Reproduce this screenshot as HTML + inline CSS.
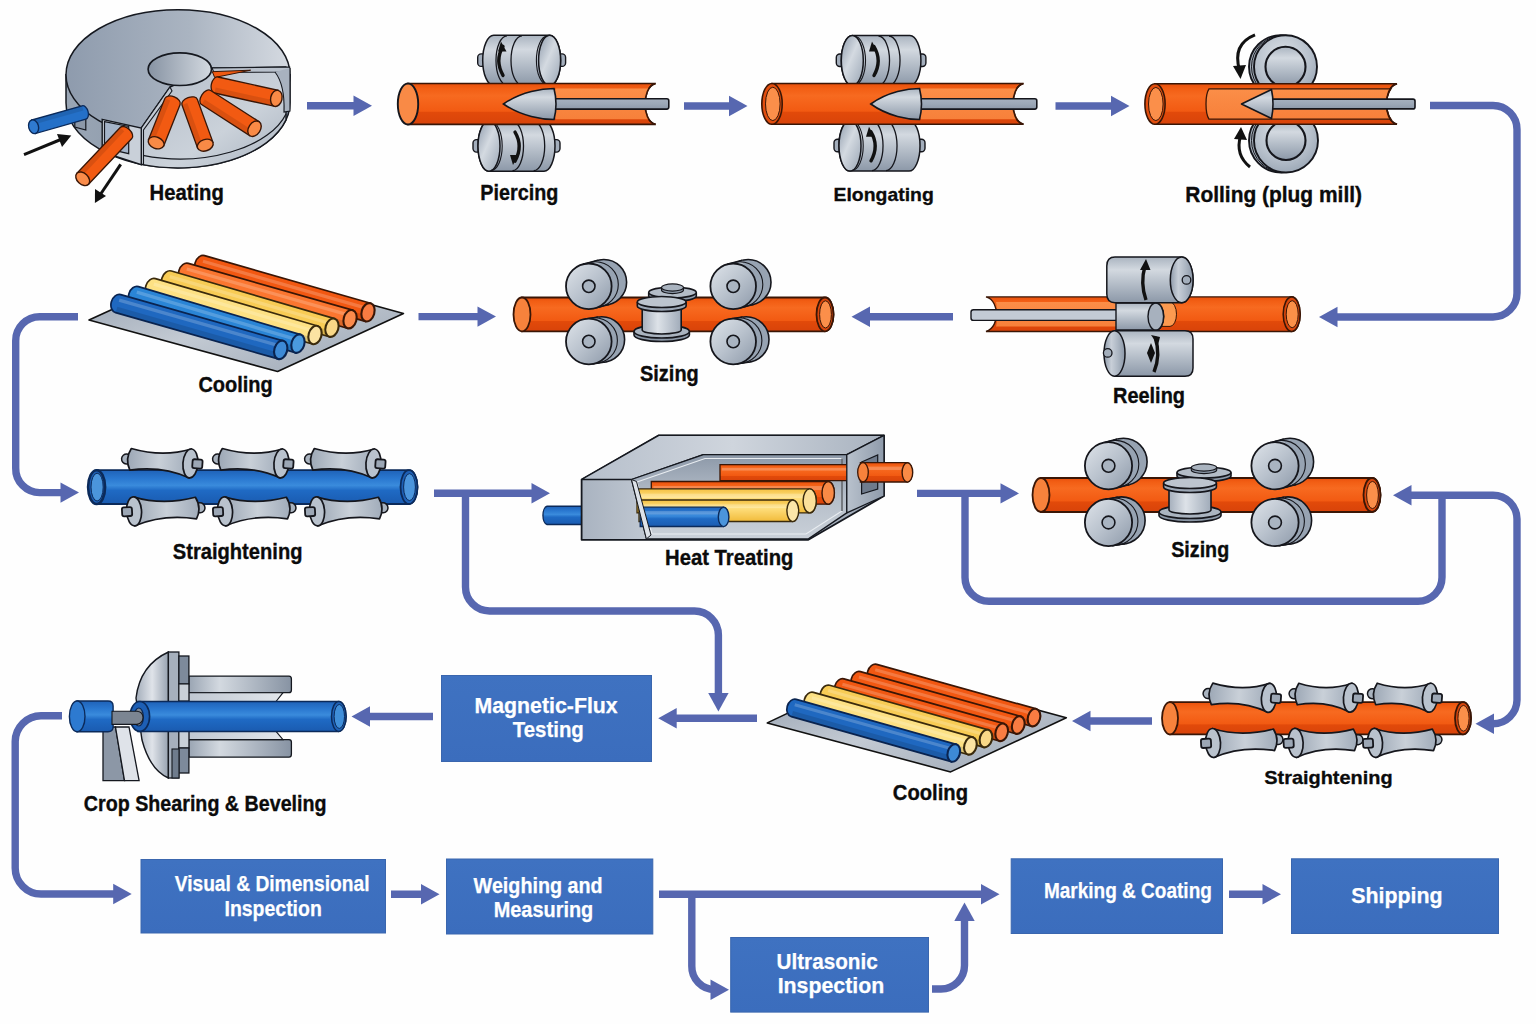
<!DOCTYPE html>
<html><head><meta charset="utf-8"><title>Seamless Pipe Process</title>
<style>
html,body{margin:0;padding:0;background:#fefefe;}
body{width:1536px;height:1024px;overflow:hidden;}
svg{display:block;}
text{font-family:"Liberation Sans",sans-serif;font-weight:bold;}
.lt{fill:#0b0b0b;stroke:#0b0b0b;stroke-width:0.35px;}
.lt2{fill:#0b0b0b;stroke:#0b0b0b;stroke-width:0.3px;}
.bt{fill:#fff;stroke:#fff;stroke-width:0.25px;}
</style></head><body>
<svg width="1536" height="1024" viewBox="0 0 1536 1024">
<defs>

<linearGradient id="spoolb" x1="0" y1="0" x2="1" y2="0"><stop offset="0" stop-color="#a5afbc"/><stop offset="0.4" stop-color="#dde2e8"/><stop offset="1" stop-color="#a0abb9"/></linearGradient>
<linearGradient id="rollend" x1="0" y1="0" x2="1" y2="1"><stop offset="0" stop-color="#8d9aab"/><stop offset="0.45" stop-color="#d4dae1"/><stop offset="1" stop-color="#9aa6b5"/></linearGradient>
<radialGradient id="discf2" cx="0.45" cy="0.35" r="0.7"><stop offset="0" stop-color="#dde2e8"/><stop offset="0.6" stop-color="#b9c2cd"/><stop offset="1" stop-color="#98a4b3"/></radialGradient>
<linearGradient id="ftop" x1="0" y1="0" x2="1" y2="0"><stop offset="0" stop-color="#8e9bad"/><stop offset="0.55" stop-color="#aab4c1"/><stop offset="1" stop-color="#d5dae1"/></linearGradient>
<linearGradient id="fside" x1="0" y1="0" x2="1" y2="0"><stop offset="0" stop-color="#9aa6b5"/><stop offset="0.5" stop-color="#8a97a8"/><stop offset="1" stop-color="#7e8b9d"/></linearGradient>
<linearGradient id="ffloor" x1="0" y1="0" x2="1" y2="1"><stop offset="0" stop-color="#b3bcc8"/><stop offset="0.6" stop-color="#cbd2da"/><stop offset="1" stop-color="#a9b3c0"/></linearGradient>
<linearGradient id="fhole" x1="0" y1="0" x2="1" y2="0"><stop offset="0" stop-color="#8793a3"/><stop offset="1" stop-color="#d3d9e0"/></linearGradient>
<linearGradient id="htg" x1="0" y1="0" x2="1" y2="0"><stop offset="0" stop-color="#a9b3c0"/><stop offset="0.3" stop-color="#c9d0d9"/><stop offset="1" stop-color="#9aa5b4"/></linearGradient>
<linearGradient id="httop" x1="0" y1="0" x2="1" y2="0"><stop offset="0" stop-color="#b6bfcb"/><stop offset="0.5" stop-color="#cfd5dd"/><stop offset="1" stop-color="#a8b2bf"/></linearGradient>
<linearGradient id="htin" x1="0" y1="0" x2="0" y2="1"><stop offset="0" stop-color="#8c98a8"/><stop offset="0.5" stop-color="#b5bec9"/><stop offset="1" stop-color="#c9d0d8"/></linearGradient>
<linearGradient id="htside" x1="0" y1="0" x2="1" y2="0"><stop offset="0" stop-color="#b9c2cd"/><stop offset="1" stop-color="#8f9bab"/></linearGradient>
<linearGradient id="domeg" x1="0" y1="0" x2="1" y2="0"><stop offset="0" stop-color="#a3adba"/><stop offset="0.5" stop-color="#dfe3e9"/><stop offset="1" stop-color="#98a3b1"/></linearGradient>
<linearGradient id="armg" x1="0" y1="0" x2="1" y2="0"><stop offset="0" stop-color="#9aa5b3"/><stop offset="0.3" stop-color="#d3d9e0"/><stop offset="1" stop-color="#8793a3"/></linearGradient>
<linearGradient id="armg2" x1="0" y1="0" x2="1" y2="0"><stop offset="0" stop-color="#c0c8d2"/><stop offset="1" stop-color="#e2e6eb"/></linearGradient>
<linearGradient id="plateg" x1="0" y1="0" x2="1" y2="1"><stop offset="0" stop-color="#8e9aaa"/><stop offset="0.5" stop-color="#c3cad3"/><stop offset="1" stop-color="#9aa5b3"/></linearGradient>
<linearGradient id="rollg" x1="0" y1="0" x2="1" y2="0"><stop offset="0" stop-color="#9da8b6"/><stop offset="0.5" stop-color="#c9d0d8"/><stop offset="1" stop-color="#a1acba"/></linearGradient>
<linearGradient id="discf" x1="0" y1="0" x2="1" y2="1"><stop offset="0" stop-color="#dfe4ea"/><stop offset="0.5" stop-color="#b9c2cd"/><stop offset="1" stop-color="#8d99a9"/></linearGradient>
<linearGradient id="og" x1="0" y1="0" x2="0" y2="1">
 <stop offset="0" stop-color="#e9500c"/><stop offset="0.12" stop-color="#f25e14"/>
 <stop offset="0.3" stop-color="#f76a20"/><stop offset="0.68" stop-color="#f25a12"/>
 <stop offset="0.7" stop-color="#e24a0a"/><stop offset="1" stop-color="#d8430a"/></linearGradient>
<linearGradient id="oin" x1="0" y1="0" x2="0" y2="1">
 <stop offset="0" stop-color="#fb8e48"/><stop offset="1" stop-color="#f7803a"/></linearGradient>
<linearGradient id="sg" x1="0" y1="0" x2="0" y2="1">
 <stop offset="0" stop-color="#aab4c0"/><stop offset="0.28" stop-color="#d3d9e0"/>
 <stop offset="0.6" stop-color="#b3bcc7"/><stop offset="1" stop-color="#8c98a8"/></linearGradient>
<linearGradient id="sgh" x1="0" y1="0" x2="1" y2="0">
 <stop offset="0" stop-color="#8e9aaa"/><stop offset="0.35" stop-color="#c8cfd8"/>
 <stop offset="0.65" stop-color="#aeb8c4"/><stop offset="1" stop-color="#8b97a7"/></linearGradient>
<linearGradient id="rodg" x1="0" y1="0" x2="0" y2="1">
 <stop offset="0" stop-color="#a6b1bf"/><stop offset="0.5" stop-color="#9ca8b7"/><stop offset="1" stop-color="#8d99a9"/></linearGradient>
<linearGradient id="bg" x1="0" y1="0" x2="0" y2="1">
 <stop offset="0" stop-color="#1f62b8"/><stop offset="0.25" stop-color="#2a78d0"/>
 <stop offset="0.45" stop-color="#3a8bdc"/><stop offset="0.6" stop-color="#1f6ac4"/><stop offset="1" stop-color="#1a5bb0"/></linearGradient>
<linearGradient id="yg" x1="0" y1="0" x2="0" y2="1">
 <stop offset="0" stop-color="#f4c042"/><stop offset="0.35" stop-color="#ffe080"/><stop offset="1" stop-color="#f1bb3a"/></linearGradient>

<linearGradient id="boxg" x1="0" y1="0" x2="0" y2="1"><stop offset="0" stop-color="#3f72c1"/><stop offset="1" stop-color="#3b6dbd"/></linearGradient>
</defs>
<rect width="1536" height="1024" fill="#fefefe"/>
<polygon fill="#5767b0" points="307.0,102.1 353.5,102.1 353.5,95.6 372.0,105.8 353.5,116.0 353.5,109.5 307.0,109.5"/>
<polygon fill="#5767b0" points="684.0,102.3 729.0,102.3 729.0,95.8 747.5,106.0 729.0,116.2 729.0,109.7 684.0,109.7"/>
<polygon fill="#5767b0" points="1055.5,102.3 1111.0,102.3 1111.0,95.8 1129.5,106.0 1111.0,116.2 1111.0,109.7 1055.5,109.7"/>
<path d="M1430,105.5 H1493 A24,24 0 0 1 1517,130 V293 A24,24 0 0 1 1493,317 H1336" fill="none" stroke="#5767b0" stroke-width="7.4" stroke-linejoin="round"/>
<polygon fill="#5767b0" points="1319.0,317.0 1337.5,306.8 1337.5,327.2"/>
<polygon fill="#5767b0" points="418.5,312.9 477.5,312.9 477.5,306.4 496.0,316.6 477.5,326.8 477.5,320.3 418.5,320.3"/>
<polygon fill="#5767b0" points="953.0,313.0 870.0,313.0 870.0,306.5 851.5,316.7 870.0,326.9 870.0,320.4 953.0,320.4"/>
<path d="M78,316.7 H40 A24,24 0 0 0 15.7,341 V468 A24,24 0 0 0 40,492.6 H62" fill="none" stroke="#5767b0" stroke-width="7.4" stroke-linejoin="round"/>
<polygon fill="#5767b0" points="79.0,492.6 60.5,482.4 60.5,502.8"/>
<polygon fill="#5767b0" points="434.0,489.5 531.5,489.5 531.5,483.0 550.0,493.2 531.5,503.4 531.5,496.9 434.0,496.9"/>
<path d="M465.5,493 V587 A24,24 0 0 0 489.5,611 H694.5 A24,24 0 0 1 718.4,635 V695" fill="none" stroke="#5767b0" stroke-width="7.4" stroke-linejoin="round"/>
<polygon fill="#5767b0" points="718.4,711.5 708.2,693.0 728.6,693.0"/>
<polygon fill="#5767b0" points="917.0,489.7 1000.5,489.7 1000.5,483.2 1019.0,493.4 1000.5,503.6 1000.5,497.1 917.0,497.1"/>
<path d="M965,493 V577 A24,24 0 0 0 989,601.3 H1418 A24,24 0 0 0 1442,577 V495" fill="none" stroke="#5767b0" stroke-width="7.4" stroke-linejoin="round"/>
<path d="M1411,495.2 H1493 A24,24 0 0 1 1517,519 V700 A24,24 0 0 1 1493,723.7 H1491" fill="none" stroke="#5767b0" stroke-width="7.4" stroke-linejoin="round"/>
<polygon fill="#5767b0" points="1393.0,495.2 1411.5,485.0 1411.5,505.4"/>
<polygon fill="#5767b0" points="1475.5,723.7 1494.0,713.5 1494.0,733.9"/>
<polygon fill="#5767b0" points="433.0,712.8 370.0,712.8 370.0,706.3 351.5,716.5 370.0,726.7 370.0,720.2 433.0,720.2"/>
<polygon fill="#5767b0" points="757.0,714.5 676.7,714.5 676.7,708.0 658.2,718.2 676.7,728.4 676.7,721.9 757.0,721.9"/>
<polygon fill="#5767b0" points="1152.0,717.3 1090.5,717.3 1090.5,710.8 1072.0,721.0 1090.5,731.2 1090.5,724.7 1152.0,724.7"/>
<path d="M62,715.7 H41 A26,26 0 0 0 15.2,741.5 V868 A26,26 0 0 0 41,894 H116" fill="none" stroke="#5767b0" stroke-width="7.4" stroke-linejoin="round"/>
<polygon fill="#5767b0" points="131.7,894.0 113.2,883.8 113.2,904.2"/>
<polygon fill="#5767b0" points="391.0,890.5 421.0,890.5 421.0,884.0 439.5,894.2 421.0,904.4 421.0,897.9 391.0,897.9"/>
<path d="M659,894.3 H982" fill="none" stroke="#5767b0" stroke-width="7.4" stroke-linejoin="round"/>
<polygon fill="#5767b0" points="999.5,894.3 981.0,884.1 981.0,904.5"/>
<path d="M691.8,894 V966 A23,23 0 0 0 714.8,989.5 H713" fill="none" stroke="#5767b0" stroke-width="7.4" stroke-linejoin="round"/>
<polygon fill="#5767b0" points="729.0,989.8 710.5,979.6 710.5,1000.0"/>
<path d="M932,989 H941 A23.5,23.5 0 0 0 964.5,965.5 V918" fill="none" stroke="#5767b0" stroke-width="7.4" stroke-linejoin="round"/>
<polygon fill="#5767b0" points="964.5,902.5 954.3,921.0 974.7,921.0"/>
<polygon fill="#5767b0" points="1229.0,890.5 1262.5,890.5 1262.5,884.0 1281.0,894.2 1262.5,904.4 1262.5,897.9 1229.0,897.9"/>
<rect x="441.5" y="675.5" width="210.0" height="86.0" fill="url(#boxg)" stroke="#3a66ae" stroke-width="1"/>
<text x="474.5" y="712.8" textLength="143.2" lengthAdjust="spacingAndGlyphs" font-size="22.0" fill="#fff" class="bt">Magnetic-Flux</text>
<text x="512.8" y="737.0" textLength="71.0" lengthAdjust="spacingAndGlyphs" font-size="22.0" fill="#fff" class="bt">Testing</text>
<rect x="141.0" y="859.5" width="244.5" height="73.5" fill="url(#boxg)" stroke="#3a66ae" stroke-width="1"/>
<text x="174.7" y="890.8" textLength="194.8" lengthAdjust="spacingAndGlyphs" font-size="22.0" fill="#fff" class="bt">Visual &amp; Dimensional</text>
<text x="224.5" y="915.5" textLength="97.3" lengthAdjust="spacingAndGlyphs" font-size="22.0" fill="#fff" class="bt">Inspection</text>
<rect x="446.5" y="859.0" width="206.3" height="75.0" fill="url(#boxg)" stroke="#3a66ae" stroke-width="1"/>
<text x="473.6" y="893.4" textLength="129.1" lengthAdjust="spacingAndGlyphs" font-size="22.0" fill="#fff" class="bt">Weighing and</text>
<text x="493.7" y="917.3" textLength="99.6" lengthAdjust="spacingAndGlyphs" font-size="22.0" fill="#fff" class="bt">Measuring</text>
<rect x="730.7" y="937.5" width="197.8" height="74.6" fill="url(#boxg)" stroke="#3a66ae" stroke-width="1"/>
<text x="776.5" y="968.8" textLength="101.2" lengthAdjust="spacingAndGlyphs" font-size="22.0" fill="#fff" class="bt">Ultrasonic</text>
<text x="777.7" y="993.3" textLength="106.5" lengthAdjust="spacingAndGlyphs" font-size="22.0" fill="#fff" class="bt">Inspection</text>
<rect x="1011.2" y="858.8" width="211.3" height="74.7" fill="url(#boxg)" stroke="#3a66ae" stroke-width="1"/>
<text x="1043.9" y="897.7" textLength="168.0" lengthAdjust="spacingAndGlyphs" font-size="22.0" fill="#fff" class="bt">Marking &amp; Coating</text>
<rect x="1291.5" y="858.8" width="207.0" height="74.7" fill="url(#boxg)" stroke="#3a66ae" stroke-width="1"/>
<text x="1351.2" y="903.0" textLength="91.4" lengthAdjust="spacingAndGlyphs" font-size="22.0" fill="#fff" class="bt">Shipping</text>
<text x="149.5" y="200.0" textLength="74.3" lengthAdjust="spacingAndGlyphs" font-size="21.5" class="lt">Heating</text>
<text x="480.3" y="199.5" textLength="78.0" lengthAdjust="spacingAndGlyphs" font-size="21.5" class="lt">Piercing</text>
<text x="833.5" y="201.0" textLength="100.3" lengthAdjust="spacingAndGlyphs" font-size="18.6" class="lt2">Elongating</text>
<text x="1185.3" y="202.0" textLength="176.7" lengthAdjust="spacingAndGlyphs" font-size="21.5" class="lt">Rolling (plug mill)</text>
<text x="198.4" y="391.6" textLength="74.4" lengthAdjust="spacingAndGlyphs" font-size="21.5" class="lt">Cooling</text>
<text x="640.0" y="380.6" textLength="58.8" lengthAdjust="spacingAndGlyphs" font-size="21.5" class="lt">Sizing</text>
<text x="1113.0" y="403.1" textLength="72.0" lengthAdjust="spacingAndGlyphs" font-size="21.5" class="lt">Reeling</text>
<text x="172.8" y="559.0" textLength="129.7" lengthAdjust="spacingAndGlyphs" font-size="21.5" class="lt">Straightening</text>
<text x="665.0" y="565.3" textLength="128.4" lengthAdjust="spacingAndGlyphs" font-size="21.5" class="lt">Heat Treating</text>
<text x="1171.2" y="556.6" textLength="58.0" lengthAdjust="spacingAndGlyphs" font-size="21.5" class="lt">Sizing</text>
<text x="83.8" y="811.3" textLength="242.8" lengthAdjust="spacingAndGlyphs" font-size="21.5" class="lt">Crop Shearing &amp; Beveling</text>
<text x="892.8" y="800.0" textLength="75.2" lengthAdjust="spacingAndGlyphs" font-size="21.5" class="lt">Cooling</text>
<text x="1264.2" y="783.6" textLength="128.5" lengthAdjust="spacingAndGlyphs" font-size="18.6" class="lt2">Straightening</text>
<rect x="477.7" y="53.9" width="10" height="12.5" rx="3.5" fill="#a3aebc" stroke="#15161c" stroke-width="1.4"/>
<rect x="555.6" y="53.9" width="10" height="12.5" rx="3.5" fill="#a3aebc" stroke="#15161c" stroke-width="1.4"/>
<path d="M493.7,35.3 H549.6 A11,25.1 0 0 1 549.6,85.5 H493.7 A11,25.1 0 0 1 493.7,35.3 Z" fill="url(#sg)" stroke="#15161c" stroke-width="1.5"/>
<ellipse cx="549.6" cy="60.4" rx="11" ry="25.1" fill="url(#rollend)" stroke="#15161c" stroke-width="1.5"/>
<path d="M547.4,36.1 A11,24.3 0 0 0 547.4,84.7" fill="none" stroke="#15161c" stroke-width="1.1"/>
<path d="M507,35.8 A11,24.6 0 0 0 507,85" fill="none" stroke="#15161c" stroke-width="1.3"/>
<path d="M522,35.8 A11,24.6 0 0 0 522,85" fill="none" stroke="#15161c" stroke-width="1.3"/>
<path d="M503,46.4 Q494.6,60.4 503,75.4" fill="none" stroke="#111" stroke-width="3.4" stroke-linecap="round"/>
<polygon points="498,51.4 506.5,51.4 501,41.4" fill="#111"/>
<rect x="473" y="139.6" width="10" height="12.5" rx="3.5" fill="#a3aebc" stroke="#15161c" stroke-width="1.4"/>
<rect x="550" y="139.6" width="10" height="12.5" rx="3.5" fill="#a3aebc" stroke="#15161c" stroke-width="1.4"/>
<path d="M489,121 H544 A11,25.1 0 0 1 544,171.2 H489 A11,25.1 0 0 1 489,121 Z" fill="url(#sg)" stroke="#15161c" stroke-width="1.5"/>
<ellipse cx="489" cy="146.1" rx="11" ry="25.1" fill="url(#rollend)" stroke="#15161c" stroke-width="1.5"/>
<path d="M491.2,121.8 A11,24.3 0 0 1 491.2,170.4" fill="none" stroke="#15161c" stroke-width="1.1"/>
<path d="M512.5,121.5 A11,24.6 0 0 1 512.5,170.7" fill="none" stroke="#15161c" stroke-width="1.3"/>
<path d="M533.7,121.5 A11,24.6 0 0 1 533.7,170.7" fill="none" stroke="#15161c" stroke-width="1.3"/>
<path d="M515,132.1 Q523.4,146.1 515,161.1" fill="none" stroke="#111" stroke-width="3.4" stroke-linecap="round"/>
<polygon points="510,155.1 518.5,155.1 513,165.1" fill="#111"/>
<path d="M408,83.5 H655.6 C647.6,85.5 645.1,96 645.1,104 C645.1,112 647.6,122.4 655.6,124.4 H408 Z" fill="url(#og)" stroke="#3a1606" stroke-width="1.6"/>
<path d="M556,88.6 H649.6 C646.6,92.6 645.1,98 645.1,104 C645.1,110 646.6,115.3 649.6,119.3 H556 C552,113.3 552,94.6 556,88.6 Z" fill="url(#oin)"/>
<path d="M655.6,83.5 C647.6,85.5 645.1,96 645.1,104 C645.1,112 647.6,122.4 655.6,124.4" fill="none" stroke="#3a1606" stroke-width="1.6"/>
<ellipse cx="408" cy="104" rx="10.2" ry="20.5" fill="#f98a46" stroke="#15161c" stroke-width="1.9000000000000001"/>
<rect x="551" y="98.8" width="117.8" height="10.3" rx="2" fill="url(#rodg)" stroke="#15161c" stroke-width="1.6"/>
<path d="M503.5,104 C521.5,91.5 543,88.5 554,88.5 Q558,104 554,119.5 C543,119.5 521.5,116.5 503.5,104 Z" fill="url(#sg)" stroke="#15161c" stroke-width="1.6"/>
<rect x="836.3" y="54" width="10" height="12.5" rx="3.5" fill="#a3aebc" stroke="#15161c" stroke-width="1.4"/>
<rect x="915.9" y="54" width="10" height="12.5" rx="3.5" fill="#a3aebc" stroke="#15161c" stroke-width="1.4"/>
<path d="M852.3,35.5 H909.9 A11,25 0 0 1 909.9,85.6 H852.3 A11,25 0 0 1 852.3,35.5 Z" fill="url(#sg)" stroke="#15161c" stroke-width="1.5"/>
<ellipse cx="852.3" cy="60.5" rx="11" ry="25" fill="url(#rollend)" stroke="#15161c" stroke-width="1.5"/>
<path d="M854.5,36.3 A11,24.2 0 0 1 854.5,84.8" fill="none" stroke="#15161c" stroke-width="1.1"/>
<path d="M878.5,36 A11,24.5 0 0 1 878.5,85.1" fill="none" stroke="#15161c" stroke-width="1.3"/>
<path d="M889,36 A11,24.5 0 0 1 889,85.1" fill="none" stroke="#15161c" stroke-width="1.3"/>
<path d="M874,46.5 Q882.4,60.5 874,75.5" fill="none" stroke="#111" stroke-width="3.4" stroke-linecap="round"/>
<polygon points="869,51.5 877.5,51.5 872,41.5" fill="#111"/>
<rect x="834" y="139.2" width="10" height="12.5" rx="3.5" fill="#a3aebc" stroke="#15161c" stroke-width="1.4"/>
<rect x="915" y="139.2" width="10" height="12.5" rx="3.5" fill="#a3aebc" stroke="#15161c" stroke-width="1.4"/>
<path d="M850,120.4 H909 A11,25.3 0 0 1 909,171.1 H850 A11,25.3 0 0 1 850,120.4 Z" fill="url(#sg)" stroke="#15161c" stroke-width="1.5"/>
<ellipse cx="850" cy="145.8" rx="11" ry="25.3" fill="url(#rollend)" stroke="#15161c" stroke-width="1.5"/>
<path d="M852.2,121.2 A11,24.5 0 0 1 852.2,170.3" fill="none" stroke="#15161c" stroke-width="1.1"/>
<path d="M872,120.9 A11,24.8 0 0 1 872,170.6" fill="none" stroke="#15161c" stroke-width="1.3"/>
<path d="M886,120.9 A11,24.8 0 0 1 886,170.6" fill="none" stroke="#15161c" stroke-width="1.3"/>
<path d="M871,131.8 Q879.4,145.8 871,160.8" fill="none" stroke="#111" stroke-width="3.4" stroke-linecap="round"/>
<polygon points="866,136.8 874.5,136.8 869,126.8" fill="#111"/>
<path d="M772,83.5 H1023.5 C1015.5,85.5 1013,95.9 1013,103.9 C1013,111.9 1015.5,122.3 1023.5,124.3 H772 Z" fill="url(#og)" stroke="#3a1606" stroke-width="1.6"/>
<path d="M921,88.6 H1017.5 C1014.5,92.6 1013,97.9 1013,103.9 C1013,109.9 1014.5,115.2 1017.5,119.2 H921 C917,113.2 917,94.6 921,88.6 Z" fill="url(#oin)"/>
<path d="M1023.5,83.5 C1015.5,85.5 1013,95.9 1013,103.9 C1013,111.9 1015.5,122.3 1023.5,124.3" fill="none" stroke="#3a1606" stroke-width="1.6"/>
<ellipse cx="772" cy="103.9" rx="10.2" ry="20.4" fill="#e24e0e" stroke="#3a1606" stroke-width="1.6"/>
<ellipse cx="772.8" cy="103.9" rx="7.3" ry="16.7" fill="#fb8f4a" stroke="#3a1606" stroke-width="1"/>
<rect x="916.5" y="98.8" width="120.3" height="10.3" rx="2" fill="url(#rodg)" stroke="#15161c" stroke-width="1.6"/>
<path d="M870.8,104 C888.2,91.5 908.5,88.5 919.5,88.5 Q923.5,104 919.5,119.5 C908.5,119.5 888.2,116.5 870.8,104 Z" fill="url(#sg)" stroke="#15161c" stroke-width="1.6"/>
<circle cx="1280.5" cy="66.8" r="31.5" fill="#a9b3bf" stroke="#15161c" stroke-width="1.9000000000000001"/>
<circle cx="1283" cy="66.8" r="31.5" fill="none" stroke="#15161c" stroke-width="1"/>
<circle cx="1285.5" cy="66.8" r="31.5" fill="url(#discf2)" stroke="#15161c" stroke-width="1.9000000000000001"/>
<circle cx="1285.5" cy="66.8" r="20" fill="url(#sg)" stroke="#15161c" stroke-width="2.1"/>
<circle cx="1281" cy="140.5" r="32" fill="#a9b3bf" stroke="#15161c" stroke-width="1.9000000000000001"/>
<circle cx="1283.5" cy="140.5" r="32" fill="none" stroke="#15161c" stroke-width="1"/>
<circle cx="1286" cy="140.5" r="32" fill="url(#discf2)" stroke="#15161c" stroke-width="1.9000000000000001"/>
<circle cx="1286" cy="140.5" r="19.5" fill="url(#sg)" stroke="#15161c" stroke-width="2.1"/>
<path d="M1155,83.8 H1397 C1389,85.8 1386.5,96 1386.5,104 C1386.5,112 1389,122.2 1397,124.2 H1155 Z" fill="url(#og)" stroke="#3a1606" stroke-width="1.6"/>
<path d="M1209,88.8 H1391 C1388,92.8 1386.5,98 1386.5,104 C1386.5,110 1388,115.2 1391,119.2 H1209 C1205,113.2 1205,94.8 1209,88.8 Z" fill="url(#oin)" stroke="#3a1606" stroke-width="1.3"/>
<path d="M1397,83.8 C1389,85.8 1386.5,96 1386.5,104 C1386.5,112 1389,122.2 1397,124.2" fill="none" stroke="#3a1606" stroke-width="1.6"/>
<ellipse cx="1155" cy="104" rx="10.1" ry="20.2" fill="#e24e0e" stroke="#3a1606" stroke-width="1.6"/>
<ellipse cx="1155.8" cy="104" rx="7.3" ry="16.6" fill="#fb8f4a" stroke="#3a1606" stroke-width="1"/>
<rect x="1267.5" y="99.1" width="147.5" height="9.8" rx="2" fill="url(#rodg)" stroke="#15161c" stroke-width="1.6"/>
<path d="M1241.5,104 L1271.5,89.5 Q1274.5,104 1271.5,118.5 Z" fill="url(#sg)" stroke="#15161c" stroke-width="1.6" stroke-linejoin="round"/>
<path d="M1255,34.8 Q1232,44 1239.5,70" fill="none" stroke="#111" stroke-width="3"/>
<polygon points="1233,66 1246,65 1240.5,79" fill="#111"/>
<path d="M1250,167 Q1235,155 1240.5,136" fill="none" stroke="#111" stroke-width="3"/>
<polygon points="1234,139 1247,140 1241,127" fill="#111"/>
<path d="M522,297.5 H825 A8.5,16.9 0 0 1 825,331.4 H522 Z" fill="url(#og)" stroke="#3a1606" stroke-width="1.8"/>
<ellipse cx="825" cy="314.4" rx="8.5" ry="16.9" fill="#d9460c" stroke="#3a1606" stroke-width="1.8"/>
<ellipse cx="825.5" cy="314.4" rx="5.9" ry="13.6" fill="#fb8f4a" stroke="#3a1606" stroke-width="1"/>
<ellipse cx="522" cy="314.4" rx="8.5" ry="16.9" fill="#f7823c" stroke="#3a1606" stroke-width="1.8"/>
<ellipse cx="603.8" cy="282.3" rx="22.8" ry="22.8" fill="#97a3b2" stroke="#15161c" stroke-width="1.6"/>
<polygon points="594.7,308.3 609.7,304.3 597.9,260.3 582.9,264.3" fill="url(#sg)"/>
<path d="M594.7,308.3 L609.7,304.3 M597.9,260.3 L582.9,264.3" stroke="#15161c" stroke-width="1.6"/>
<ellipse cx="595.5" cy="284.5" rx="22.8" ry="22.8" fill="none" stroke="#15161c" stroke-width="1.1"/>
<ellipse cx="588.8" cy="286.3" rx="22.8" ry="22.8" fill="url(#discf)" stroke="#15161c" stroke-width="1.8"/>
<circle cx="588.8" cy="286.3" r="6.2" fill="#a9b4c1" stroke="#15161c" stroke-width="1.6"/>
<ellipse cx="748.2" cy="282.3" rx="22.8" ry="22.8" fill="#97a3b2" stroke="#15161c" stroke-width="1.6"/>
<polygon points="739.1,308.3 754.1,304.3 742.3,260.3 727.3,264.3" fill="url(#sg)"/>
<path d="M739.1,308.3 L754.1,304.3 M742.3,260.3 L727.3,264.3" stroke="#15161c" stroke-width="1.6"/>
<ellipse cx="740" cy="284.5" rx="22.8" ry="22.8" fill="none" stroke="#15161c" stroke-width="1.1"/>
<ellipse cx="733.2" cy="286.3" rx="22.8" ry="22.8" fill="url(#discf)" stroke="#15161c" stroke-width="1.8"/>
<circle cx="733.2" cy="286.3" r="6.2" fill="#a9b4c1" stroke="#15161c" stroke-width="1.6"/>
<ellipse cx="601.8" cy="339.5" rx="22.8" ry="22.8" fill="#97a3b2" stroke="#15161c" stroke-width="1.6"/>
<polygon points="592.3,364 605.3,362 598.3,317 585.3,319" fill="url(#sg)"/>
<path d="M592.3,364 L605.3,362 M598.3,317 L585.3,319" stroke="#15161c" stroke-width="1.6"/>
<ellipse cx="594.6" cy="340.6" rx="22.8" ry="22.8" fill="none" stroke="#15161c" stroke-width="1.1"/>
<ellipse cx="588.8" cy="341.5" rx="22.8" ry="22.8" fill="url(#discf)" stroke="#15161c" stroke-width="1.8"/>
<circle cx="588.8" cy="341.5" r="6.2" fill="#a9b4c1" stroke="#15161c" stroke-width="1.6"/>
<ellipse cx="746.2" cy="339.5" rx="22.8" ry="22.8" fill="#97a3b2" stroke="#15161c" stroke-width="1.6"/>
<polygon points="736.7,364 749.7,362 742.7,317 729.7,319" fill="url(#sg)"/>
<path d="M736.7,364 L749.7,362 M742.7,317 L729.7,319" stroke="#15161c" stroke-width="1.6"/>
<ellipse cx="739.1" cy="340.6" rx="22.8" ry="22.8" fill="none" stroke="#15161c" stroke-width="1.1"/>
<ellipse cx="733.2" cy="341.5" rx="22.8" ry="22.8" fill="url(#discf)" stroke="#15161c" stroke-width="1.8"/>
<circle cx="733.2" cy="341.5" r="6.2" fill="#a9b4c1" stroke="#15161c" stroke-width="1.6"/>
<path d="M648.7,292.5 v3.5 a23.8,5.5 0 0 0 47.6,0 v-3.5" fill="#8d99a8" stroke="#15161c" stroke-width="1.6"/>
<ellipse cx="672.5" cy="292.5" rx="23.8" ry="5.5" fill="#b3bcc7" stroke="#15161c" stroke-width="1.6"/>
<path d="M661.5,287.5 v2.5 a11,3.6 0 0 0 22,0 v-2.5" fill="#8d99a8" stroke="#15161c" stroke-width="1.1"/>
<ellipse cx="672.5" cy="287.5" rx="11" ry="3.6" fill="#a9b3bf" stroke="#15161c" stroke-width="1.1"/>
<path d="M634,331.5 v3.5 a27.7,6.5 0 0 0 55.4,0 v-3.5" fill="#8b97a6" stroke="#15161c" stroke-width="1.6"/>
<ellipse cx="661.7" cy="331.5" rx="27.7" ry="6.5" fill="#aab4c0" stroke="#15161c" stroke-width="1.6"/>
<path d="M642.2,302 V330 A19.5,4 0 0 0 681.2,330 V302 Z" fill="url(#spoolb)" stroke="#15161c" stroke-width="1.6"/>
<path d="M637.3,302 v4 a24.4,5.5 0 0 0 48.8,0 v-4" fill="#9ca7b5" stroke="#15161c" stroke-width="1.6"/>
<ellipse cx="661.7" cy="302" rx="24.4" ry="5.5" fill="#bcc4ce" stroke="#15161c" stroke-width="1.6"/>
<path d="M1041,478 H1372 A8.5,17 0 0 1 1372,512 H1041 Z" fill="url(#og)" stroke="#3a1606" stroke-width="1.8"/>
<ellipse cx="1372" cy="495" rx="8.5" ry="17" fill="#d9460c" stroke="#3a1606" stroke-width="1.8"/>
<ellipse cx="1372.5" cy="495" rx="5.9" ry="13.6" fill="#fb8f4a" stroke="#3a1606" stroke-width="1"/>
<ellipse cx="1041" cy="495" rx="8.5" ry="17" fill="#f7823c" stroke="#3a1606" stroke-width="1.8"/>
<ellipse cx="1123.5" cy="461.8" rx="23.6" ry="23.6" fill="#97a3b2" stroke="#15161c" stroke-width="1.6"/>
<polygon points="1114.6,488.6 1129.6,484.6 1117.4,439 1102.4,443" fill="url(#sg)"/>
<path d="M1114.6,488.6 L1129.6,484.6 M1117.4,439 L1102.4,443" stroke="#15161c" stroke-width="1.6"/>
<ellipse cx="1115.2" cy="464" rx="23.6" ry="23.6" fill="none" stroke="#15161c" stroke-width="1.1"/>
<ellipse cx="1108.5" cy="465.8" rx="23.6" ry="23.6" fill="url(#discf)" stroke="#15161c" stroke-width="1.8"/>
<circle cx="1108.5" cy="465.8" r="6.4" fill="#a9b4c1" stroke="#15161c" stroke-width="1.6"/>
<ellipse cx="1290" cy="461.8" rx="23.6" ry="23.6" fill="#97a3b2" stroke="#15161c" stroke-width="1.6"/>
<polygon points="1281.1,488.6 1296.1,484.6 1283.9,439 1268.9,443" fill="url(#sg)"/>
<path d="M1281.1,488.6 L1296.1,484.6 M1283.9,439 L1268.9,443" stroke="#15161c" stroke-width="1.6"/>
<ellipse cx="1281.8" cy="464" rx="23.6" ry="23.6" fill="none" stroke="#15161c" stroke-width="1.1"/>
<ellipse cx="1275" cy="465.8" rx="23.6" ry="23.6" fill="url(#discf)" stroke="#15161c" stroke-width="1.8"/>
<circle cx="1275" cy="465.8" r="6.4" fill="#a9b4c1" stroke="#15161c" stroke-width="1.6"/>
<ellipse cx="1121.5" cy="520.5" rx="23.6" ry="23.6" fill="#97a3b2" stroke="#15161c" stroke-width="1.6"/>
<polygon points="1112.1,545.8 1125.1,543.8 1117.9,497.2 1104.9,499.2" fill="url(#sg)"/>
<path d="M1112.1,545.8 L1125.1,543.8 M1117.9,497.2 L1104.9,499.2" stroke="#15161c" stroke-width="1.6"/>
<ellipse cx="1114.3" cy="521.6" rx="23.6" ry="23.6" fill="none" stroke="#15161c" stroke-width="1.1"/>
<ellipse cx="1108.5" cy="522.5" rx="23.6" ry="23.6" fill="url(#discf)" stroke="#15161c" stroke-width="1.8"/>
<circle cx="1108.5" cy="522.5" r="6.4" fill="#a9b4c1" stroke="#15161c" stroke-width="1.6"/>
<ellipse cx="1288" cy="520.5" rx="23.6" ry="23.6" fill="#97a3b2" stroke="#15161c" stroke-width="1.6"/>
<polygon points="1278.6,545.8 1291.6,543.8 1284.4,497.2 1271.4,499.2" fill="url(#sg)"/>
<path d="M1278.6,545.8 L1291.6,543.8 M1284.4,497.2 L1271.4,499.2" stroke="#15161c" stroke-width="1.6"/>
<ellipse cx="1280.8" cy="521.6" rx="23.6" ry="23.6" fill="none" stroke="#15161c" stroke-width="1.1"/>
<ellipse cx="1275" cy="522.5" rx="23.6" ry="23.6" fill="url(#discf)" stroke="#15161c" stroke-width="1.8"/>
<circle cx="1275" cy="522.5" r="6.4" fill="#a9b4c1" stroke="#15161c" stroke-width="1.6"/>
<path d="M1177,472.5 v3.5 a27,5.5 0 0 0 54,0 v-3.5" fill="#8d99a8" stroke="#15161c" stroke-width="1.6"/>
<ellipse cx="1204" cy="472.5" rx="27" ry="5.5" fill="#b3bcc7" stroke="#15161c" stroke-width="1.6"/>
<path d="M1191.3,467.5 v2.5 a12.7,3.6 0 0 0 25.4,0 v-2.5" fill="#8d99a8" stroke="#15161c" stroke-width="1.1"/>
<ellipse cx="1204" cy="467.5" rx="12.7" ry="3.6" fill="#a9b3bf" stroke="#15161c" stroke-width="1.1"/>
<path d="M1159,512 v3.5 a31,6.5 0 0 0 62,0 v-3.5" fill="#8b97a6" stroke="#15161c" stroke-width="1.6"/>
<ellipse cx="1190" cy="512" rx="31" ry="6.5" fill="#aab4c0" stroke="#15161c" stroke-width="1.6"/>
<path d="M1169,483 V510 A21,4 0 0 0 1211,510 V483 Z" fill="url(#spoolb)" stroke="#15161c" stroke-width="1.6"/>
<path d="M1163.6,483 v4 a26.4,5.5 0 0 0 52.8,0 v-4" fill="#9ca7b5" stroke="#15161c" stroke-width="1.6"/>
<ellipse cx="1190" cy="483" rx="26.4" ry="5.5" fill="#bcc4ce" stroke="#15161c" stroke-width="1.6"/>
<polygon points="89,320 216,262 403.5,313.4 277.6,371.5" fill="url(#plateg)" stroke="#111" stroke-width="1.6" stroke-linejoin="round"/>
<g transform="translate(202,264.7) rotate(16)">
<path d="M0,-9.4 H172.7 V9.4 H0 A7.1,9.4 0 0 1 0,-9.4 Z" fill="#f25812" stroke="#3a1606" stroke-width="1.7"/>
<rect x="0" y="-5.2" width="169.7" height="3.3" fill="#ffffff" opacity="0.2"/>
<rect x="0" y="3.3" width="169.7" height="5.6" fill="#000" opacity="0.12"/>
<ellipse cx="172.7" cy="0" rx="6.4" ry="9.4" fill="#f97c42" stroke="#3a1606" stroke-width="2.1"/>
</g>
<g transform="translate(185.8,272.4) rotate(15.9)">
<path d="M0,-9.4 H170.8 V9.4 H0 A7.1,9.4 0 0 1 0,-9.4 Z" fill="#fb7630" stroke="#3a1606" stroke-width="1.7"/>
<rect x="0" y="-5.2" width="167.8" height="3.3" fill="#ffffff" opacity="0.2"/>
<rect x="0" y="3.3" width="167.8" height="5.6" fill="#000" opacity="0.12"/>
<ellipse cx="170.8" cy="0" rx="6.4" ry="9.4" fill="#fb8a4c" stroke="#3a1606" stroke-width="2.1"/>
</g>
<g transform="translate(168.8,280) rotate(16.3)">
<path d="M0,-9.4 H170 V9.4 H0 A7.1,9.4 0 0 1 0,-9.4 Z" fill="#f8cc55" stroke="#3a2a0c" stroke-width="1.7"/>
<rect x="0" y="-5.2" width="167" height="3.3" fill="#ffffff" opacity="0.2"/>
<rect x="0" y="3.3" width="167" height="5.6" fill="#000" opacity="0.12"/>
<ellipse cx="170" cy="0" rx="6.4" ry="9.4" fill="#f9d887" stroke="#3a2a0c" stroke-width="2.1"/>
</g>
<g transform="translate(152.8,287.6) rotate(16.3)">
<path d="M0,-9.4 H169 V9.4 H0 A7.1,9.4 0 0 1 0,-9.4 Z" fill="#fde184" stroke="#3a2a0c" stroke-width="1.7"/>
<rect x="0" y="-5.2" width="166" height="3.3" fill="#ffffff" opacity="0.2"/>
<rect x="0" y="3.3" width="166" height="5.6" fill="#000" opacity="0.12"/>
<ellipse cx="169" cy="0" rx="6.4" ry="9.4" fill="#fbe3a2" stroke="#3a2a0c" stroke-width="2.1"/>
</g>
<g transform="translate(135.8,295.6) rotate(16.5)">
<path d="M0,-9.4 H169.1 V9.4 H0 A7.1,9.4 0 0 1 0,-9.4 Z" fill="#2a85d6" stroke="#0a2450" stroke-width="1.7"/>
<rect x="0" y="-5.2" width="166.1" height="3.3" fill="#ffffff" opacity="0.2"/>
<rect x="0" y="3.3" width="166.1" height="5.6" fill="#000" opacity="0.12"/>
<ellipse cx="169.1" cy="0" rx="6.4" ry="9.4" fill="#4a9ade" stroke="#0a2450" stroke-width="2.1"/>
</g>
<g transform="translate(118.2,303.6) rotate(15.9)">
<path d="M0,-9.4 H169 V9.4 H0 A7.1,9.4 0 0 1 0,-9.4 Z" fill="#1f68c0" stroke="#0a2450" stroke-width="1.7"/>
<rect x="0" y="-5.2" width="166" height="3.3" fill="#ffffff" opacity="0.2"/>
<rect x="0" y="3.3" width="166" height="5.6" fill="#000" opacity="0.12"/>
<ellipse cx="169" cy="0" rx="6.4" ry="9.4" fill="#3d8ad6" stroke="#0a2450" stroke-width="2.1"/>
</g>
<polygon points="767.3,722.9 883,668 1066.3,717.7 950.6,771.9" fill="url(#plateg)" stroke="#111" stroke-width="1.6" stroke-linejoin="round"/>
<g transform="translate(874.3,673) rotate(15.6)">
<path d="M0,-9 H165.8 V9 H0 A6.8,9 0 0 1 0,-9 Z" fill="#f25812" stroke="#3a1606" stroke-width="1.7"/>
<rect x="0" y="-5" width="162.8" height="3.1" fill="#ffffff" opacity="0.2"/>
<rect x="0" y="3.1" width="162.8" height="5.4" fill="#000" opacity="0.12"/>
<ellipse cx="165.8" cy="0" rx="6.1" ry="9" fill="#f97c42" stroke="#3a1606" stroke-width="2.1"/>
</g>
<g transform="translate(858,680.3) rotate(15.6)">
<path d="M0,-9 H166.4 V9 H0 A6.8,9 0 0 1 0,-9 Z" fill="#f25812" stroke="#3a1606" stroke-width="1.7"/>
<rect x="0" y="-5" width="163.4" height="3.1" fill="#ffffff" opacity="0.2"/>
<rect x="0" y="3.1" width="163.4" height="5.4" fill="#000" opacity="0.12"/>
<ellipse cx="166.4" cy="0" rx="6.1" ry="9" fill="#f97c42" stroke="#3a1606" stroke-width="2.1"/>
</g>
<g transform="translate(841.5,687.6) rotate(15.6)">
<path d="M0,-9 H166.3 V9 H0 A6.8,9 0 0 1 0,-9 Z" fill="#f25812" stroke="#3a1606" stroke-width="1.7"/>
<rect x="0" y="-5" width="163.3" height="3.1" fill="#ffffff" opacity="0.2"/>
<rect x="0" y="3.1" width="163.3" height="5.4" fill="#000" opacity="0.12"/>
<ellipse cx="166.3" cy="0" rx="6.1" ry="9" fill="#f97c42" stroke="#3a1606" stroke-width="2.1"/>
</g>
<g transform="translate(827.2,693.9) rotate(15.7)">
<path d="M0,-9 H164.9 V9 H0 A6.8,9 0 0 1 0,-9 Z" fill="#f8cc55" stroke="#3a2a0c" stroke-width="1.7"/>
<rect x="0" y="-5" width="161.9" height="3.1" fill="#ffffff" opacity="0.2"/>
<rect x="0" y="3.1" width="161.9" height="5.4" fill="#000" opacity="0.12"/>
<ellipse cx="164.9" cy="0" rx="6.1" ry="9" fill="#f9d887" stroke="#3a2a0c" stroke-width="2.1"/>
</g>
<g transform="translate(811,701) rotate(15.7)">
<path d="M0,-9 H165.6 V9 H0 A6.8,9 0 0 1 0,-9 Z" fill="#fde184" stroke="#3a2a0c" stroke-width="1.7"/>
<rect x="0" y="-5" width="162.6" height="3.1" fill="#ffffff" opacity="0.2"/>
<rect x="0" y="3.1" width="162.6" height="5.4" fill="#000" opacity="0.12"/>
<ellipse cx="165.6" cy="0" rx="6.1" ry="9" fill="#fbe3a2" stroke="#3a2a0c" stroke-width="2.1"/>
</g>
<g transform="translate(793.8,708) rotate(15.7)">
<path d="M0,-9 H166.2 V9 H0 A6.8,9 0 0 1 0,-9 Z" fill="#1f68c0" stroke="#0a2450" stroke-width="1.7"/>
<rect x="0" y="-5" width="163.2" height="3.1" fill="#ffffff" opacity="0.2"/>
<rect x="0" y="3.1" width="163.2" height="5.4" fill="#000" opacity="0.12"/>
<ellipse cx="166.2" cy="0" rx="6.1" ry="9" fill="#3d8ad6" stroke="#0a2450" stroke-width="2.1"/>
</g>
<path d="M96.6,470.2 H409 A8.5,16.9 0 0 1 409,504 H96.6 Z" fill="url(#bg)" stroke="#0b2a5a" stroke-width="1.8"/>
<ellipse cx="409" cy="487.1" rx="8.5" ry="16.9" fill="#1d5fb5" stroke="#0b2a5a" stroke-width="1.8"/>
<ellipse cx="409.5" cy="487.1" rx="5.9" ry="13.5" fill="#4b95dc" stroke="#0b2a5a" stroke-width="1"/>
<ellipse cx="96.6" cy="487.1" rx="8.5" ry="16.9" fill="#1d5fb5" stroke="#0b2a5a" stroke-width="2.6"/>
<ellipse cx="97.1" cy="487.1" rx="6.1" ry="13.9" fill="#4b95dc" stroke="#0b2a5a" stroke-width="1"/>
<g transform="rotate(4 162.5 461.5)">
<circle cx="126.5" cy="461.5" r="5" fill="#a9b3bf" stroke="#15161c" stroke-width="1.5"/>
<path d="M130.5,450.7 Q162.5,457.5 190.5,447 L190.5,476 Q162.5,465.5 130.5,472.3 Q124.5,461.5 130.5,450.7 Z" fill="url(#rollg)" stroke="#15161c" stroke-width="1.7" stroke-linejoin="round"/>
<ellipse cx="190.5" cy="461.5" rx="7.5" ry="14.5" fill="#b9c2cd" stroke="#15161c" stroke-width="1.7"/>
<rect x="192.5" y="457" width="10" height="9" rx="2" fill="#9ca7b5" stroke="#15161c" stroke-width="1.8"/>
</g>
<g transform="rotate(4 253.5 461.5)">
<circle cx="217.5" cy="461.5" r="5" fill="#a9b3bf" stroke="#15161c" stroke-width="1.5"/>
<path d="M221.5,450.7 Q253.5,457.5 281.5,447 L281.5,476 Q253.5,465.5 221.5,472.3 Q215.5,461.5 221.5,450.7 Z" fill="url(#rollg)" stroke="#15161c" stroke-width="1.7" stroke-linejoin="round"/>
<ellipse cx="281.5" cy="461.5" rx="7.5" ry="14.5" fill="#b9c2cd" stroke="#15161c" stroke-width="1.7"/>
<rect x="283.5" y="457" width="10" height="9" rx="2" fill="#9ca7b5" stroke="#15161c" stroke-width="1.8"/>
</g>
<g transform="rotate(4 345.5 461.5)">
<circle cx="309.5" cy="461.5" r="5" fill="#a9b3bf" stroke="#15161c" stroke-width="1.5"/>
<path d="M313.5,450.7 Q345.5,457.5 373.5,447 L373.5,476 Q345.5,465.5 313.5,472.3 Q307.5,461.5 313.5,450.7 Z" fill="url(#rollg)" stroke="#15161c" stroke-width="1.7" stroke-linejoin="round"/>
<ellipse cx="373.5" cy="461.5" rx="7.5" ry="14.5" fill="#b9c2cd" stroke="#15161c" stroke-width="1.7"/>
<rect x="375.5" y="457" width="10" height="9" rx="2" fill="#9ca7b5" stroke="#15161c" stroke-width="1.8"/>
</g>
<g transform="rotate(-3 163 509.8)">
<circle cx="200" cy="509.8" r="5" fill="#a9b3bf" stroke="#15161c" stroke-width="1.5"/>
<path d="M196,499 Q163,505.8 134,495.3 L134,524.3 Q163,513.8 196,520.6 Q202,509.8 196,499 Z" fill="url(#rollg)" stroke="#15161c" stroke-width="1.7" stroke-linejoin="round"/>
<ellipse cx="134" cy="509.8" rx="7.5" ry="14.5" fill="#b9c2cd" stroke="#15161c" stroke-width="1.7"/>
<rect x="122" y="505.3" width="10" height="9" rx="2" fill="#9ca7b5" stroke="#15161c" stroke-width="1.8"/>
</g>
<g transform="rotate(-3 254 509.8)">
<circle cx="291" cy="509.8" r="5" fill="#a9b3bf" stroke="#15161c" stroke-width="1.5"/>
<path d="M287,499 Q254,505.8 225,495.3 L225,524.3 Q254,513.8 287,520.6 Q293,509.8 287,499 Z" fill="url(#rollg)" stroke="#15161c" stroke-width="1.7" stroke-linejoin="round"/>
<ellipse cx="225" cy="509.8" rx="7.5" ry="14.5" fill="#b9c2cd" stroke="#15161c" stroke-width="1.7"/>
<rect x="213" y="505.3" width="10" height="9" rx="2" fill="#9ca7b5" stroke="#15161c" stroke-width="1.8"/>
</g>
<g transform="rotate(-3 346 509.8)">
<circle cx="383" cy="509.8" r="5" fill="#a9b3bf" stroke="#15161c" stroke-width="1.5"/>
<path d="M379,499 Q346,505.8 317,495.3 L317,524.3 Q346,513.8 379,520.6 Q385,509.8 379,499 Z" fill="url(#rollg)" stroke="#15161c" stroke-width="1.7" stroke-linejoin="round"/>
<ellipse cx="317" cy="509.8" rx="7.5" ry="14.5" fill="#b9c2cd" stroke="#15161c" stroke-width="1.7"/>
<rect x="305" y="505.3" width="10" height="9" rx="2" fill="#9ca7b5" stroke="#15161c" stroke-width="1.8"/>
</g>
<path d="M1170,702.2 H1463 A8,16.1 0 0 1 1463,734.4 H1170 Z" fill="url(#og)" stroke="#3a1606" stroke-width="1.8"/>
<ellipse cx="1463" cy="718.3" rx="8" ry="16.1" fill="#d9460c" stroke="#3a1606" stroke-width="1.8"/>
<ellipse cx="1463.5" cy="718.3" rx="5.6" ry="12.9" fill="#fb8f4a" stroke="#3a1606" stroke-width="1"/>
<ellipse cx="1170" cy="718.3" rx="8" ry="16.1" fill="#f7823c" stroke="#3a1606" stroke-width="1.8"/>
<g transform="rotate(4 1242.5 696)">
<circle cx="1208" cy="696" r="5" fill="#a9b3bf" stroke="#15161c" stroke-width="1.5"/>
<path d="M1212,685.2 Q1242.5,692 1269,681.5 L1269,710.5 Q1242.5,700 1212,706.8 Q1206,696 1212,685.2 Z" fill="url(#rollg)" stroke="#15161c" stroke-width="1.7" stroke-linejoin="round"/>
<ellipse cx="1269" cy="696" rx="7.5" ry="14.5" fill="#b9c2cd" stroke="#15161c" stroke-width="1.7"/>
<rect x="1271" y="691.5" width="10" height="9" rx="2" fill="#9ca7b5" stroke="#15161c" stroke-width="1.8"/>
</g>
<g transform="rotate(4 1326.5 696)">
<circle cx="1294" cy="696" r="5" fill="#a9b3bf" stroke="#15161c" stroke-width="1.5"/>
<path d="M1298,685.2 Q1326.5,692 1351,681.5 L1351,710.5 Q1326.5,700 1298,706.8 Q1292,696 1298,685.2 Z" fill="url(#rollg)" stroke="#15161c" stroke-width="1.7" stroke-linejoin="round"/>
<ellipse cx="1351" cy="696" rx="7.5" ry="14.5" fill="#b9c2cd" stroke="#15161c" stroke-width="1.7"/>
<rect x="1353" y="691.5" width="10" height="9" rx="2" fill="#9ca7b5" stroke="#15161c" stroke-width="1.8"/>
</g>
<g transform="rotate(4 1405.2 696)">
<circle cx="1372.4" cy="696" r="5" fill="#a9b3bf" stroke="#15161c" stroke-width="1.5"/>
<path d="M1376.4,685.2 Q1405.2,692 1430,681.5 L1430,710.5 Q1405.2,700 1376.4,706.8 Q1370.4,696 1376.4,685.2 Z" fill="url(#rollg)" stroke="#15161c" stroke-width="1.7" stroke-linejoin="round"/>
<ellipse cx="1430" cy="696" rx="7.5" ry="14.5" fill="#b9c2cd" stroke="#15161c" stroke-width="1.7"/>
<rect x="1432" y="691.5" width="10" height="9" rx="2" fill="#9ca7b5" stroke="#15161c" stroke-width="1.8"/>
</g>
<g transform="rotate(-3 1241.5 741.5)">
<circle cx="1278" cy="741.5" r="5" fill="#a9b3bf" stroke="#15161c" stroke-width="1.5"/>
<path d="M1274,730.7 Q1241.5,737.5 1213,727 L1213,756 Q1241.5,745.5 1274,752.3 Q1280,741.5 1274,730.7 Z" fill="url(#rollg)" stroke="#15161c" stroke-width="1.7" stroke-linejoin="round"/>
<ellipse cx="1213" cy="741.5" rx="7.5" ry="14.5" fill="#b9c2cd" stroke="#15161c" stroke-width="1.7"/>
<rect x="1201" y="737" width="10" height="9" rx="2" fill="#9ca7b5" stroke="#15161c" stroke-width="1.8"/>
</g>
<g transform="rotate(-3 1322.8 741.5)">
<circle cx="1358" cy="741.5" r="5" fill="#a9b3bf" stroke="#15161c" stroke-width="1.5"/>
<path d="M1354,730.7 Q1322.8,737.5 1295.6,727 L1295.6,756 Q1322.8,745.5 1354,752.3 Q1360,741.5 1354,730.7 Z" fill="url(#rollg)" stroke="#15161c" stroke-width="1.7" stroke-linejoin="round"/>
<ellipse cx="1295.6" cy="741.5" rx="7.5" ry="14.5" fill="#b9c2cd" stroke="#15161c" stroke-width="1.7"/>
<rect x="1283.6" y="737" width="10" height="9" rx="2" fill="#9ca7b5" stroke="#15161c" stroke-width="1.8"/>
</g>
<g transform="rotate(-3 1402 741.5)">
<circle cx="1437" cy="741.5" r="5" fill="#a9b3bf" stroke="#15161c" stroke-width="1.5"/>
<path d="M1433,730.7 Q1402,737.5 1375,727 L1375,756 Q1402,745.5 1433,752.3 Q1439,741.5 1433,730.7 Z" fill="url(#rollg)" stroke="#15161c" stroke-width="1.7" stroke-linejoin="round"/>
<ellipse cx="1375" cy="741.5" rx="7.5" ry="14.5" fill="#b9c2cd" stroke="#15161c" stroke-width="1.7"/>
<rect x="1363" y="737" width="10" height="9" rx="2" fill="#9ca7b5" stroke="#15161c" stroke-width="1.8"/>
</g>
<path d="M1150,296.9 H1291.7 A8.5,17.3 0 0 1 1291.7,331.5 H1150 Z" fill="url(#og)" stroke="#3a1606" stroke-width="1.4"/>
<ellipse cx="1291.7" cy="314.2" rx="8.5" ry="17.3" fill="#d9460c" stroke="#3a1606" stroke-width="1.6"/>
<ellipse cx="1292.2" cy="314.2" rx="6" ry="13.5" fill="#fb9048" stroke="#3a1606" stroke-width="1"/>
<path d="M986,296.9 H1150 V331.5 H986 C994,329 996.5,320 996.5,314.2 C996.5,308 994,299 986,296.9 Z" fill="url(#og)" stroke="#3a1606" stroke-width="1.4"/>
<path d="M996,302 H1125 V326.4 H996 C997.5,322 997.5,306 996,302 Z" fill="url(#oin)"/>
<path d="M1158,302 H1170 A6.5,12.2 0 0 1 1170,326.4 H1158 Z" fill="#fc9a50" stroke="#3a1606" stroke-width="1"/>
<rect x="971" y="309.8" width="150" height="10.6" rx="2.5" fill="#c3cbd5" stroke="#15161c" stroke-width="1.4"/>
<path d="M1116,303 H1156 A7.8,13.5 0 0 1 1156,330 H1116 Z" fill="url(#sg)" stroke="#15161c" stroke-width="1.4"/>
<ellipse cx="1155.8" cy="316.5" rx="7.8" ry="13.5" fill="#a7b1be" stroke="#15161c" stroke-width="1.4"/>
<path d="M1115,257.1 H1182 A11,22.8 0 0 1 1182,302.7 H1115 Q1106.8,302.7 1106.8,294 V266 Q1106.8,257.1 1115,257.1 Z" fill="url(#sg)" stroke="#15161c" stroke-width="1.5"/>
<ellipse cx="1181.7" cy="279.9" rx="11.4" ry="22.8" fill="url(#sgh)" stroke="#15161c" stroke-width="1.5"/>
<circle cx="1186.5" cy="279.9" r="4.3" fill="#a3aebb" stroke="#15161c" stroke-width="1.3"/>
<path d="M1146,300 Q1140,283 1145,266" fill="none" stroke="#111" stroke-width="3.4"/>
<polygon points="1140,270 1150.5,270 1146,259" fill="#111"/>
<path d="M1114.5,330.8 H1185 Q1193,330.8 1193,339 V368 Q1193,376.2 1185,376.2 H1114.5 Z" fill="url(#sg)" stroke="#15161c" stroke-width="1.5"/>
<ellipse cx="1114.5" cy="353.5" rx="10.5" ry="22.7" fill="url(#sgh)" stroke="#15161c" stroke-width="1.5"/>
<circle cx="1107.7" cy="352.9" r="4.3" fill="#a3aebb" stroke="#15161c" stroke-width="1.3"/>
<path d="M1155,337 Q1161,355 1154,372" fill="none" stroke="#111" stroke-width="3.4"/>
<polygon points="1151,335 1160,337 1158,345" fill="#111"/>
<polygon points="1147,353 1151,343 1155,353 1151,363" fill="#111"/>
<path d="M590,506.2 H547 A4.5,9.2 0 0 0 547,524.5 H590 Z" fill="url(#bg)" stroke="#0b2a5a" stroke-width="1.4"/>
<polygon points="581.6,479.5 658.8,435.4 884,435.4 884,496 808.4,539.8 581.6,539.8" fill="url(#htg)" stroke="#15181f" stroke-width="1.8" stroke-linejoin="round"/>
<polygon points="581.6,479.5 658.8,435.4 884,435.4 846.8,454.7 703.3,454.7 631.5,479.5" fill="url(#httop)" stroke="#15181f" stroke-width="1.3" stroke-linejoin="round"/>
<polygon points="631.5,479.5 703.3,454.7 846.8,454.7 846.8,512.9 808.4,538.9 646.4,538.9" fill="url(#htin)" stroke="#15181f" stroke-width="1.3" stroke-linejoin="round"/>
<polygon points="637,482 705,458.5 842,458.5 842,511 806,534 652,534" fill="none" stroke="#e9edf1" stroke-width="1.2"/>
<path d="M842,458.5 V511" stroke="#15181f" stroke-width="1"/>
<path d="M720,464.6 H852 A4.4,8 0 0 1 852,480.7 H720 Z" fill="url(#og)" stroke="#3a1606" stroke-width="1.3"/><rect x="722" y="467.8" width="129" height="2.8" fill="#fff" opacity="0.22"/><ellipse cx="852" cy="472.6" rx="4.4" ry="8" fill="#f7823c" stroke="#3a1606" stroke-width="1.4"/>
<path d="M651.3,481.5 H828.2 A6.2,11.3 0 0 1 828.2,504.2 H651.3 Z" fill="url(#og)" stroke="#3a1606" stroke-width="1.3"/><rect x="653.3" y="486" width="173.9" height="4" fill="#fff" opacity="0.22"/><ellipse cx="828.2" cy="492.9" rx="6.2" ry="11.3" fill="#f98a46" stroke="#3a1606" stroke-width="1.4"/>
<path d="M637,488.9 H809.7 A6.6,12 0 0 1 809.7,512.9 H637 Z" fill="url(#yg)" stroke="#3a2a0c" stroke-width="1.3"/><rect x="639" y="493.7" width="169.7" height="4.2" fill="#fff" opacity="0.22"/><ellipse cx="809.7" cy="500.9" rx="6.6" ry="12" fill="#fbe09a" stroke="#3a2a0c" stroke-width="1.4"/>
<path d="M639,500 H792.8 A5.9,10.8 0 0 1 792.8,521.5 H639 Z" fill="url(#yg)" stroke="#3a2a0c" stroke-width="1.3"/><rect x="641" y="504.3" width="150.8" height="3.8" fill="#fff" opacity="0.22"/><ellipse cx="792.8" cy="510.8" rx="5.9" ry="10.8" fill="#fbe6a8" stroke="#3a2a0c" stroke-width="1.4"/>
<path d="M640.2,507.2 H723.6 A5.3,9.7 0 0 1 723.6,526.5 H640.2 Z" fill="url(#bg)" stroke="#0b2a5a" stroke-width="1.3"/><rect x="642.2" y="511.1" width="80.4" height="3.4" fill="#fff" opacity="0.22"/><ellipse cx="723.6" cy="516.9" rx="5.3" ry="9.7" fill="#4b95dc" stroke="#0b2a5a" stroke-width="1.4"/>
<polygon points="631.5,479.5 636.5,481.5 651,535 646.4,538.9" fill="#dde2e8" stroke="#15181f" stroke-width="1"/>
<polygon points="846.8,454.7 884,435.4 884,496 846.8,512.9" fill="url(#htside)" stroke="#15181f" stroke-width="1.3" stroke-linejoin="round"/>
<polygon points="861.6,462 877.7,455 877.7,489 861.6,494" fill="#6f7b8c" stroke="#15181f" stroke-width="1.2"/>
<path d="M860.4,462.7 H907.4 A5.3,9.7 0 0 1 907.4,482 H860.4 Z" fill="url(#og)" stroke="#3a1606" stroke-width="1.3"/><rect x="862.4" y="466.6" width="44" height="3.4" fill="#fff" opacity="0.22"/><ellipse cx="907.4" cy="472.4" rx="5.3" ry="9.7" fill="#f98a46" stroke="#3a1606" stroke-width="1.4"/>
<ellipse cx="863" cy="472.3" rx="5.3" ry="9.6" fill="#f7823c" stroke="#3a1606" stroke-width="1.3"/>
<polygon points="103,727 115.5,727 124.5,780.6 103,780.6" fill="#8c97a6" stroke="#15181f" stroke-width="1.3"/>
<polygon points="115.5,727 129,727 139.1,780.6 124.5,780.6" fill="#dfe3e9" stroke="#15181f" stroke-width="1.3"/>
<path d="M168.4,652 V778 Q150,770 142,740 L136,698 Q140,665 168.4,652 Z" fill="url(#domeg)" stroke="#15181f" stroke-width="1.4"/>
<path d="M188.9,676.1 H289 Q291.4,676.1 291.4,679 V690 Q291.4,692.7 289,692.7 H188.9 Z" fill="url(#armg)" stroke="#15181f" stroke-width="1.3"/>
<polygon points="188.9,692.7 283,692.7 276,701.5 188.9,701.5" fill="url(#armg2)" stroke="#15181f" stroke-width="1.1"/>
<path d="M188.9,739.6 H289 Q291.4,739.6 291.4,742 V754 Q291.4,757.2 289,757.2 H188.9 Z" fill="url(#armg)" stroke="#15181f" stroke-width="1.3"/>
<polygon points="188.9,731.4 276,731.4 283,739.6 188.9,739.6" fill="url(#armg2)" stroke="#15181f" stroke-width="1.1"/>
<rect x="168.4" y="652" width="10.5" height="126" fill="#a6b0bd" stroke="#15181f" stroke-width="1.3"/>
<rect x="178.9" y="656" width="10" height="28" fill="#7d8a9b" stroke="#15181f" stroke-width="1.3"/>
<rect x="178.9" y="684" width="10" height="17" fill="#c9d0d8" stroke="#15181f" stroke-width="1.1"/>
<rect x="178.9" y="731" width="10" height="17" fill="#c9d0d8" stroke="#15181f" stroke-width="1.1"/>
<rect x="178.9" y="748" width="10" height="25" fill="#7d8a9b" stroke="#15181f" stroke-width="1.3"/>
<rect x="172" y="749" width="7" height="29" fill="#6f7c8d" stroke="#15181f" stroke-width="1.1"/>
<path d="M77,701 H108 Q113.1,701 113.1,706 V726.8 Q113.1,731.8 108,731.8 H77 Z" fill="url(#bg)" stroke="#0b2a5a" stroke-width="1.4"/>
<ellipse cx="77.2" cy="716.4" rx="7.8" ry="15.4" fill="#2d7ad0" stroke="#0b2a5a" stroke-width="1.4"/>
<path d="M138,701.5 H338.8 A7.3,14.95 0 0 1 338.8,731.4 H138 Z" fill="url(#bg)" stroke="#0b2a5a" stroke-width="1.5"/>
<ellipse cx="338.8" cy="716.45" rx="7.3" ry="14.95" fill="#1f62b8" stroke="#0b2a5a" stroke-width="1.5"/>
<ellipse cx="339.3" cy="716.45" rx="5.2" ry="12" fill="#3f8ed9" stroke="#0b2a5a" stroke-width="1"/>
<ellipse cx="139.8" cy="716.45" rx="9.8" ry="14.95" fill="#1d5fb5" stroke="#0b2a5a" stroke-width="1.6"/>
<ellipse cx="138.8" cy="717" rx="4.6" ry="9" fill="#7d8793" stroke="#0b2a5a" stroke-width="1.2"/>
<path d="M112,711.3 H137 Q143,712 143,717.5 Q143,723 137,724.4 H112 Z" fill="#7b8592" stroke="#15181f" stroke-width="1.1"/>
<path d="M66,74.7 V102.7 A112,65 0 0 0 290,102.7 V74.7 Z" fill="url(#fside)" stroke="#15181f" stroke-width="1.5"/>
<ellipse cx="178" cy="74.7" rx="112" ry="65" fill="url(#ftop)" stroke="#15181f" stroke-width="1.5"/>
<path d="M170,87 L141.3,128 V164.4 A112,65 0 0 0 286,119.9 V67 L212,68 Z" fill="url(#ffloor)" stroke="#15181f" stroke-width="1.4" stroke-linejoin="round"/>
<path d="M142.8,155.4 A110,61 0 0 0 286,113.9" fill="none" stroke="#15181f" stroke-width="1.2"/>
<polygon points="170,87 141.3,128 141.3,164.4 143.5,164.4 143.5,130 172,91" fill="#c3cad3" stroke="#15181f" stroke-width="1.1"/>
<polygon points="212,68 289.7,67 289.7,72 214,72.5" fill="#b9c1cc" stroke="#15181f" stroke-width="1.1"/>
<path d="M275,72 Q285,85 284,112 L290,111 V68" fill="#a8b2bf" stroke="#15181f" stroke-width="1.1"/>
<ellipse cx="179.8" cy="69.2" rx="31.7" ry="16.3" fill="url(#fhole)" stroke="#15181f" stroke-width="1.6"/>
<polygon points="212.3,71.7 250.6,70.2 214.7,77.5" fill="#f05a12" stroke="#3a1606" stroke-width="1"/>
<g transform="translate(216.2,85) rotate(12.5)">
<path d="M0,-8.2 H61.6 V8.2 H0 A4.9,8.2 0 0 1 0,-8.2 Z" fill="#f25a12" stroke="#3a1606" stroke-width="1.3"/>
<rect x="0" y="2.5" width="61.6" height="5.3" fill="#000" opacity="0.1"/>
<ellipse cx="61.6" cy="0" rx="5.7" ry="8.2" fill="#f98a46" stroke="#3a1606" stroke-width="1.4"/>
</g>
<g transform="translate(206.1,97.5) rotate(32.8)">
<path d="M0,-8.4 H57.6 V8.4 H0 A5,8.4 0 0 1 0,-8.4 Z" fill="#f25a12" stroke="#3a1606" stroke-width="1.3"/>
<rect x="0" y="2.5" width="57.6" height="5.5" fill="#000" opacity="0.1"/>
<ellipse cx="57.6" cy="0" rx="5.9" ry="8.4" fill="#f98a46" stroke="#3a1606" stroke-width="1.4"/>
</g>
<g transform="translate(172.5,101.4) rotate(111.6)">
<path d="M0,-8.2 H44.5 V8.2 H0 A4.9,8.2 0 0 1 0,-8.2 Z" fill="#f25a12" stroke="#3a1606" stroke-width="1.3"/>
<rect x="0" y="2.5" width="44.5" height="5.3" fill="#000" opacity="0.1"/>
<ellipse cx="44.5" cy="0" rx="5.7" ry="8.2" fill="#f98a46" stroke="#3a1606" stroke-width="1.4"/>
</g>
<g transform="translate(189.7,102.2) rotate(70.1)">
<path d="M0,-8.2 H45.7 V8.2 H0 A4.9,8.2 0 0 1 0,-8.2 Z" fill="#f25a12" stroke="#3a1606" stroke-width="1.3"/>
<rect x="0" y="2.5" width="45.7" height="5.3" fill="#000" opacity="0.1"/>
<ellipse cx="45.7" cy="0" rx="5.7" ry="8.2" fill="#f98a46" stroke="#3a1606" stroke-width="1.4"/>
</g>
<polygon points="102.2,119.4 141.3,128 141.3,164.7 102.2,152" fill="#c9d0d9" stroke="#15181f" stroke-width="1.4"/>
<polygon points="104.5,121.7 128.7,126.5 128.7,153.7 104.5,148" fill="#a4b4c9" stroke="#15181f" stroke-width="1.2"/>
<polygon points="74.8,113 85.8,114 85.8,130 74.8,127" fill="#8c98a8" stroke="#15181f" stroke-width="1.2"/>
<g transform="translate(84,112.5) rotate(164.2)">
<path d="M0,-7 H52.4 V7 H0 A4.2,7 0 0 1 0,-7 Z" fill="#2470c8" stroke="#0b2a5a" stroke-width="1.3"/>
<rect x="0" y="2.1" width="52.4" height="4.5" fill="#000" opacity="0.1"/>
<ellipse cx="52.4" cy="0" rx="4.9" ry="7" fill="#2f7ad0" stroke="#0b2a5a" stroke-width="1.4"/>
</g>
<g transform="translate(126,133) rotate(133.4)">
<path d="M0,-8 H63 V8 H0 A4.8,8 0 0 1 0,-8 Z" fill="#f25a12" stroke="#3a1606" stroke-width="1.3"/>
<rect x="0" y="2.4" width="63" height="5.2" fill="#000" opacity="0.1"/>
<ellipse cx="63" cy="0" rx="5.6" ry="8" fill="#fa8c4a" stroke="#3a1606" stroke-width="1.4"/>
</g>
<line x1="24" y1="154.7" x2="62" y2="139" stroke="#111" stroke-width="3"/>
<polygon points="71.3,135.4 57,134 62,147" fill="#111"/>
<line x1="120.7" y1="164.4" x2="100" y2="195" stroke="#111" stroke-width="3"/>
<polygon points="94.9,203 95,189 106,196" fill="#111"/>
</svg>
</body></html>
